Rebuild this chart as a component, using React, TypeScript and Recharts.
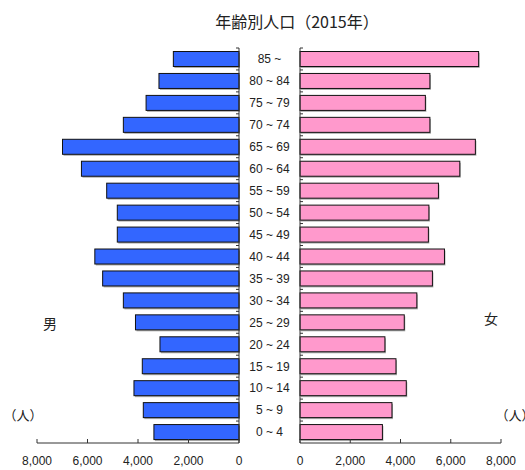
import { BarChart, Bar, XAxis, YAxis } from "recharts";

const ageGroups = [
  "85 ~", "80 ~ 84", "75 ~ 79", "70 ~ 74", "65 ~ 69", "60 ~ 64",
  "55 ~ 59", "50 ~ 54", "45 ~ 49", "40 ~ 44", "35 ~ 39", "30 ~ 34",
  "25 ~ 29", "20 ~ 24", "15 ~ 19", "10 ~ 14", "5 ~ 9", "0 ~ 4",
];
const male = [2600, 3170, 3680, 4580, 6990, 6240, 5240, 4820, 4820, 5710, 5400, 4580, 4100, 3130, 3830, 4160, 3790, 3370];
const female = [7110, 5170, 4990, 5170, 6980, 6360, 5510, 5130, 5110, 5750, 5270, 4650, 4150, 3380, 3820, 4230, 3660, 3280];
const xTicks = [0, 2000, 4000, 6000, 8000];

const data = ageGroups.map((age, i) => ({ age, male: male[i], female: female[i] }));

const W = 525;
const H = 470;
const TOP = 48;
const AXIS_Y = 443;
const LEFT_AXIS_X = 239;
const RIGHT_AXIS_X = 300;
const GAP = RIGHT_AXIS_X - LEFT_AXIS_X;
const BAND = (AXIS_Y - TOP) / ageGroups.length;
const NUM_FONT = "'Liberation Sans', Arial, sans-serif";
const CJK_FONT = "'Noto Sans CJK JP', sans-serif";
const INK = "#222";

// bar with black border and a small grey drop shadow
const ShadowBar = (props: any) => {
  const { x, y, width, height, fill } = props;
  const bx = Math.min(x, x + width);
  const bw = Math.abs(width);
  return (
    <g>
      <rect x={bx + 1} y={y + 1.5} width={bw} height={height} fill="#8c8c8c" opacity={0.7} />
      <rect x={bx} y={y} width={bw} height={height} fill={fill} stroke="#111" strokeWidth={1} />
    </g>
  );
};

// x ticks point up into the plot, labels below
const XTick = (props: any) => {
  const { x, y, payload } = props;
  return (
    <g>
      <line x1={x} x2={x} y1={y} y2={y - 4} stroke="#333" />
      <text x={x} y={y + 22} textAnchor="middle" fontSize={12} fontFamily={NUM_FONT} fill={INK}>
        {payload.value.toLocaleString("en-US")}
      </text>
    </g>
  );
};

// left chart's axis sits on the right; it also carries the age labels in the gap
const LeftYTick = (props: any) => {
  const { x, y, payload } = props;
  return (
    <g>
      <line x1={x - 3} x2={x} y1={y - BAND / 2} y2={y - BAND / 2} stroke="#333" />
      <text x={x + GAP / 2} y={y} dy="0.36em" textAnchor="middle" fontSize={12} fontFamily={NUM_FONT} fill={INK}>
        {payload.value}
      </text>
    </g>
  );
};

const RightYTick = (props: any) => {
  const { x, y } = props;
  return <line x1={x} x2={x + 3} y1={y - BAND / 2} y2={y - BAND / 2} stroke="#333" />;
};

const label = (text: string, x: number, y: number, size: number) => (
  <div
    style={{
      position: "absolute",
      left: x,
      top: y,
      transform: "translate(-50%, -50%)",
      fontFamily: CJK_FONT,
      fontSize: size,
      lineHeight: 1,
      color: INK,
      whiteSpace: "nowrap",
    }}
  >
    {text}
  </div>
);

export default function App() {
  return (
    <div style={{ position: "absolute", left: 0, top: 0, width: W, height: H, overflow: "hidden", background: "#fff" }}>
      <div style={{ position: "absolute", left: 0, top: 0 }}>
        <BarChart
          width={W}
          height={H}
          data={data}
          layout="vertical"
          margin={{ top: TOP, bottom: 0, left: 37, right: W - LEFT_AXIS_X - GAP }}
          barCategoryGap="16%"
        >
          <XAxis
            type="number"
            domain={[0, 8000]}
            ticks={xTicks}
            reversed
            height={H - AXIS_Y}
            tickSize={0}
            tickMargin={0}
            tickLine={false}
            axisLine={{ stroke: "#333" }}
            tick={XTick}
            interval={0}
          />
          <YAxis
            type="category"
            dataKey="age"
            orientation="right"
            width={GAP}
            tickSize={0}
            tickMargin={0}
            tickLine={false}
            axisLine={{ stroke: "#333" }}
            tick={LeftYTick}
            interval={0}
          />
          <Bar dataKey="male" fill="#3366ff" shape={ShadowBar} isAnimationActive={false} />
        </BarChart>
      </div>
      <div style={{ position: "absolute", left: 0, top: 0 }}>
        <BarChart
          width={W}
          height={H}
          data={data}
          layout="vertical"
          margin={{ top: TOP, bottom: 0, left: RIGHT_AXIS_X - 10, right: W - 501 }}
          barCategoryGap="16%"
        >
          <XAxis
            type="number"
            domain={[0, 8000]}
            ticks={xTicks}
            height={H - AXIS_Y}
            tickSize={0}
            tickMargin={0}
            tickLine={false}
            axisLine={{ stroke: "#333" }}
            tick={XTick}
            interval={0}
          />
          <YAxis
            type="category"
            dataKey="age"
            orientation="left"
            width={10}
            tickSize={0}
            tickMargin={0}
            tickLine={false}
            axisLine={{ stroke: "#333" }}
            tick={RightYTick}
            interval={0}
          />
          <Bar dataKey="female" fill="#ff99cc" shape={ShadowBar} isAnimationActive={false} />
        </BarChart>
      </div>
      {label("年齢別人口（2015年）", 297, 21, 16)}
      {label("男", 50, 323, 14)}
      {label("女", 491, 318, 14)}
      {label("（人）", 23, 414, 13)}
      {label("（人）", 515, 414, 13)}
    </div>
  );
}
